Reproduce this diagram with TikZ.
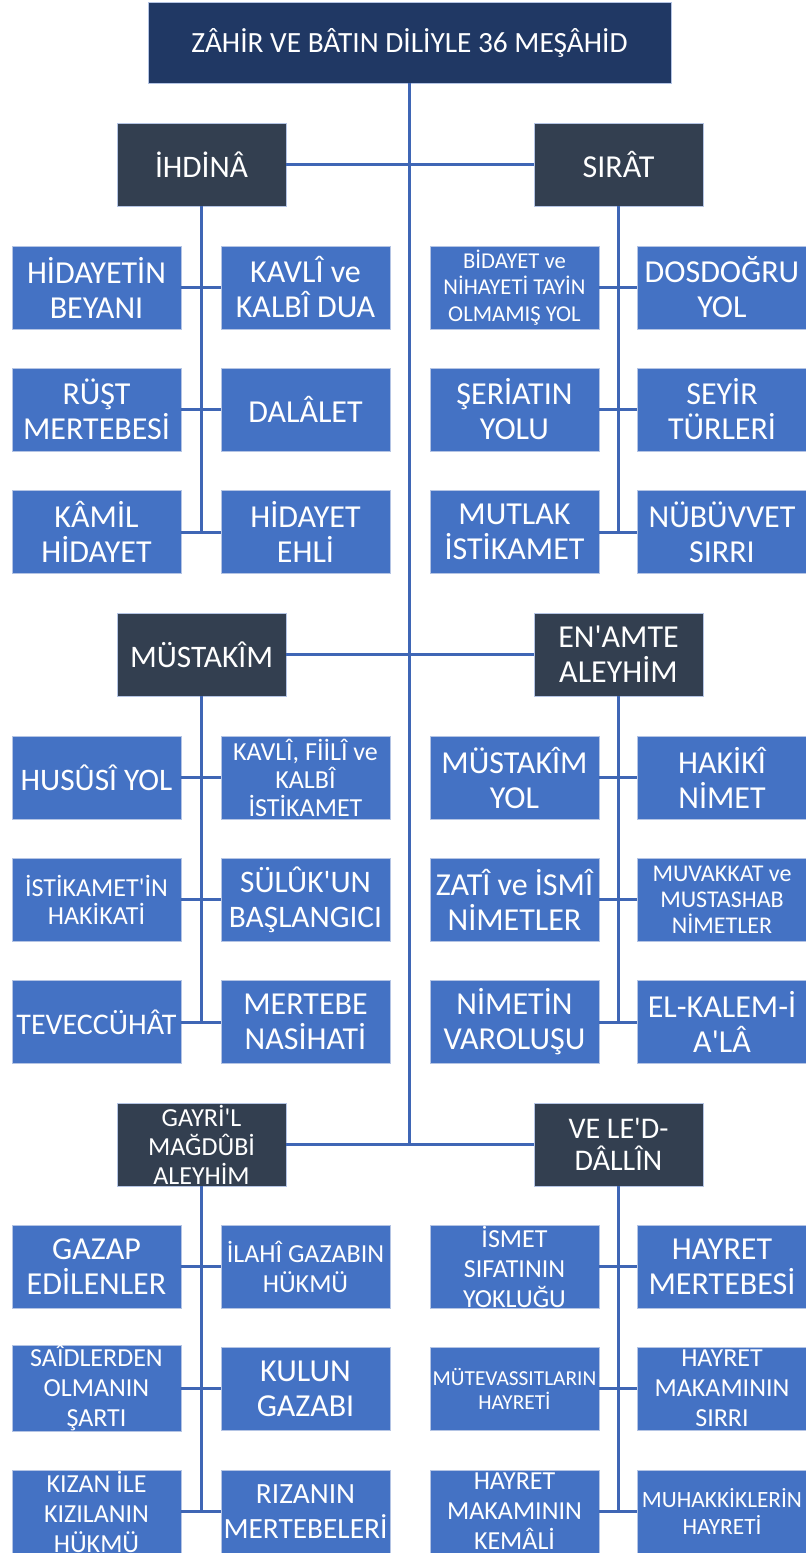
\documentclass[tikz,border=0pt]{standalone}
\usepackage{fontspec}
\setmainfont{Carlito}[Ligatures=TeXOff]
\usepackage{xcolor}
\usepackage{tikz}
\usetikzlibrary{calc}
\definecolor{navy}{HTML}{203864}
\definecolor{slate}{HTML}{333F50}
\definecolor{boxblue}{HTML}{4472C4}
\definecolor{rim}{HTML}{B4C4E4}
\definecolor{link}{HTML}{3F66B5}
\newcommand\txtL{\fontsize{24}{26.25}\selectfont}
\newcommand\txtM{\fontsize{19.5}{22.5}\selectfont}
\newcommand\txtN{\fontsize{19.5}{21}\selectfont}
\newcommand\txtS{\fontsize{17}{20}\selectfont}
\tikzset{
  card/.style={draw=rim, line width=0.6pt, text=white, inner sep=0pt, align=center,
    minimum width=126.75pt, minimum height=62.25pt},
  titlebox/.style={card, fill=navy, minimum width=392.25pt, minimum height=60.75pt,
    font=\fontsize{22}{26}\selectfont},
  head/.style={card, fill=slate, font=\txtL},
  leaf/.style={card, fill=boxblue, font=\txtL},
  link/.style={draw=link, line width=2.25pt}
}

\begin{document}
\begin{tikzpicture}[x=0.75pt, y=-0.75pt]
  \useasboundingbox (0,0) rectangle (806,1553);
  % title and the six headers
  \node[titlebox] (title) at (409.5,42.5) {ZÂHİR VE BÂTIN DİLİYLE 36 MEŞÂHİD};
  \node[head,font=\fontsize{23.5}{26}\selectfont] (ihdina) at (201.5,164.5) {İHDİNÂ};
  \node[head] (sirat) at (618.5,164.5) {SIRÂT};
  \node[head,font=\fontsize{23.5}{26}\selectfont] (mustakim) at (201.5,654.5) {MÜSTAKÎM};
  \node[head] (enamte) at (618.5,654.5) {EN'AMTE\\ALEYHİM};
  \node[head,font=\fontsize{19.5}{21.75}\selectfont] (gayri) at (201.5,1144.5) {GAYRİ'L\\MAĞDÛBİ\\ALEYHİM};
  \node[head,font=\fontsize{22.5}{24}\selectfont] (veled) at (618.5,1144.5) {VE LE'D-\\DÂLLÎN};
  % İHDİNÂ
  \node[leaf] (ih1l) at (96.5,287.5) {HİDAYETİN\\BEYANI};
  \node[leaf] (ih1r) at (305.5,287.5) {KAVLÎ ve\\KALBÎ DUA};
  \node[leaf] (ih2l) at (96.5,409.5) {RÜŞT\\MERTEBESİ};
  \node[leaf] (ih2r) at (305.5,409.5) {DALÂLET};
  \node[leaf] (ih3l) at (96.5,532) {KÂMİL\\HİDAYET};
  \node[leaf] (ih3r) at (305.5,532) {HİDAYET\\EHLİ};
  % SIRÂT
  \node[leaf,font=\txtS] (sr1l) at (514.5,287.5) {BİDAYET ve\\NİHAYETİ TAYİN\\OLMAMIŞ YOL};
  \node[leaf] (sr1r) at (722,287.5) {DOSDOĞRU\\YOL};
  \node[leaf] (sr2l) at (514.5,409.5) {ŞERİATIN\\YOLU};
  \node[leaf] (sr2r) at (722,409.5) {SEYİR\\TÜRLERİ};
  \node[leaf] (sr3l) at (514.5,532) {MUTLAK\\İSTİKAMET};
  \node[leaf] (sr3r) at (722,532) {NÜBÜVVET\\SIRRI};
  % MÜSTAKÎM
  \node[leaf,font=\fontsize{23.5}{26}\selectfont] (mu1l) at (96.5,777.5) {HUSÛSÎ YOL};
  \node[leaf,font=\txtN] (mu1r) at (305.5,777.5) {KAVLÎ, FİİLÎ ve\\KALBÎ\\İSTİKAMET};
  \node[leaf,font=\txtN] (mu2l) at (96.5,899.5) {İSTİKAMET'İN\\HAKİKATİ};
  \node[leaf,font=\fontsize{23.5}{26.25}\selectfont] (mu2r) at (305.5,899.5) {SÜLÛK'UN\\BAŞLANGICI};
  \node[leaf,font=\fontsize{22.5}{26}\selectfont] (mu3l) at (96.5,1022) {TEVECCÜHÂT};
  \node[leaf] (mu3r) at (305.5,1022) {MERTEBE\\NASİHATİ};
  % EN'AMTE ALEYHİM
  \node[leaf] (en1l) at (514.5,777.5) {MÜSTAKÎM\\YOL};
  \node[leaf] (en1r) at (722,777.5) {HAKİKÎ\\NİMET};
  \node[leaf] (en2l) at (514.5,899.5) {ZATÎ ve İSMÎ\\NİMETLER};
  \node[leaf,font=\fontsize{18}{19.5}\selectfont] (en2r) at (722,899.5) {MUVAKKAT ve\\MUSTASHAB\\NİMETLER};
  \node[leaf] (en3l) at (514.5,1022) {NİMETİN\\VAROLUŞU};
  \node[leaf] (en3r) at (722,1022) {EL-KALEM-İ\\A'LÂ};
  % GAYRİ'L MAĞDÛBİ ALEYHİM
  \node[leaf] (ga1l) at (96.5,1266.5) {GAZAP\\EDİLENLER};
  \node[leaf,font=\txtM] (ga1r) at (305.5,1266.5) {İLAHÎ GAZABIN\\HÜKMÜ};
  \node[leaf,font=\txtM] (ga2l) at (96.5,1388.5) {SAÎDLERDEN\\OLMANIN\\ŞARTI};
  \node[leaf] (ga2r) at (305.5,1388.5) {KULUN\\GAZABI};
  \node[leaf,font=\txtM] (ga3l) at (96.5,1511.5) {KIZAN İLE\\KIZILANIN\\HÜKMÜ};
  \node[leaf,font=\fontsize{22}{26.25}\selectfont] (ga3r) at (305.5,1511.5) {RIZANIN\\MERTEBELERİ};
  % VE LE'D-DÂLLÎN
  \node[leaf,font=\txtM] (ve1l) at (514.5,1266.5) {İSMET\\SIFATININ\\YOKLUĞU};
  \node[leaf] (ve1r) at (722,1266.5) {HAYRET\\MERTEBESİ};
  \node[leaf,font=\fontsize{16}{18}\selectfont] (ve2l) at (514.5,1388.5) {MÜTEVASSITLARIN\\HAYRETİ};
  \node[leaf,font=\txtM] (ve2r) at (722,1388.5) {HAYRET\\MAKAMININ\\SIRRI};
  \node[leaf,font=\txtM] (ve3l) at (514.5,1511.5) {HAYRET\\MAKAMININ\\KEMÂLİ};
  \node[leaf,font=\fontsize{17.5}{20}\selectfont] (ve3r) at (722,1511.5) {MUHAKKİKLERİN\\HAYRETİ};
  % trunk
  \draw[link] (title.south) -- (title.south |- gayri.east);
  \draw[link] (ihdina.east) -- (sirat.west);
  \draw[link] (mustakim.east) -- (enamte.west);
  \draw[link] (gayri.east) -- (veled.west);
  % branches
  \foreach \h/\g in {ihdina/ih, sirat/sr, mustakim/mu, enamte/en, gayri/ga, veled/ve} {
    \draw[link] (\h.south) -- (\h.south |- \g3l.east);
    \foreach \r in {1,2,3}
      \draw[link] (\g\r l.east) -- (\g\r r.west);
  }
\end{tikzpicture}
\end{document}
